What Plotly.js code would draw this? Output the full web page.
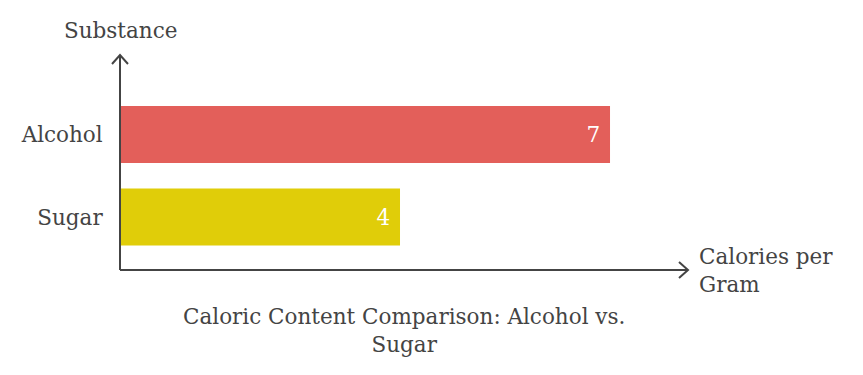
<!DOCTYPE html>
<html>
<head>
<meta charset="utf-8">
<script src="https://cdn.plot.ly/plotly-3.0.1.min.js"></script>
<style>html,body{margin:0;padding:0;background:#fff;}#chart{width:863px;height:375px;}</style>
</head>
<body>
<div id="chart"></div>
<script>
// Data (bottom to top)
const categories = ['Sugar', 'Alcohol'];
const values = [4, 7];
const barColors = ['#E0CD09', '#E35F5A'];

const chartTitle = 'Caloric Content Comparison: Alcohol vs.<br>Sugar';
const xTitle = 'Calories per<br>Gram';
const yTitle = 'Substance';

const FONT = 'DejaVu Serif, Georgia, serif';
const INK = '#444444';
const FS = 21.5;

const trace = {
  type: 'bar',
  orientation: 'h',
  y: categories,
  x: values,
  marker: { color: barColors, line: { width: 0 } },
  width: 0.69,
  texttemplate: '%{x}\u00a0',
  textposition: 'inside',
  insidetextanchor: 'end',
  constraintext: 'none',
  textfont: { family: FONT, size: FS, color: '#ffffff' },
  hoverinfo: 'none'
};

const axisColor = '#444444';
const layout = {
  width: 863,
  height: 375,
  margin: { l: 120, r: 175, t: 55, b: 105, pad: 0 },
  paper_bgcolor: '#ffffff',
  plot_bgcolor: '#ffffff',
  showlegend: false,
  font: { family: FONT, size: FS, color: INK },
  xaxis: {
    range: [0, 8.114],
    showgrid: false, zeroline: false, showline: false,
    showticklabels: false, ticks: ''
  },
  yaxis: {
    type: 'category',
    range: [-0.642, 1.964],
    showgrid: false, zeroline: false, showline: false,
    ticks: 'outside', ticklen: 12, tickcolor: 'rgba(0,0,0,0)',
    tickfont: { family: FONT, size: FS, color: INK }
  },
  shapes: [
    { type: 'line', xref: 'paper', yref: 'paper', x0: 0, x1: 0, y0: 0, y1: 1,
      line: { color: axisColor, width: 2 } },
    { type: 'line', xref: 'paper', yref: 'paper', x0: 0, x1: 1, y0: 0, y1: 0,
      line: { color: axisColor, width: 2 } },
    { type: 'path', xref: 'paper', yref: 'paper', xsizemode: 'pixel', ysizemode: 'pixel',
      xanchor: 0, yanchor: 1, path: 'M-8,-9 L0,0 L8,-9',
      line: { color: axisColor, width: 2 } },
    { type: 'path', xref: 'paper', yref: 'paper', xsizemode: 'pixel', ysizemode: 'pixel',
      xanchor: 1, yanchor: 0, path: 'M-9,8 L0,0 L-9,-8',
      line: { color: axisColor, width: 2 } }
  ],
  annotations: [
    { text: yTitle, xref: 'paper', yref: 'paper', x: 0, y: 1, xanchor: 'center', yanchor: 'bottom',
      yshift: 10, showarrow: false, font: { family: FONT, size: FS, color: INK } },
    { text: xTitle, xref: 'paper', yref: 'paper', x: 1, y: 0, xanchor: 'left', yanchor: 'middle',
      xshift: 9, align: 'left', showarrow: false, font: { family: FONT, size: FS, color: INK } },
    { text: chartTitle, xref: 'paper', yref: 'paper', x: 0.5, y: 0, xanchor: 'center', yanchor: 'top',
      yshift: -32, align: 'center', showarrow: false, font: { family: FONT, size: FS, color: INK } }
  ]
};

Plotly.newPlot('chart', [trace], layout, { displayModeBar: false, staticPlot: true });
</script>
</body>
</html>
